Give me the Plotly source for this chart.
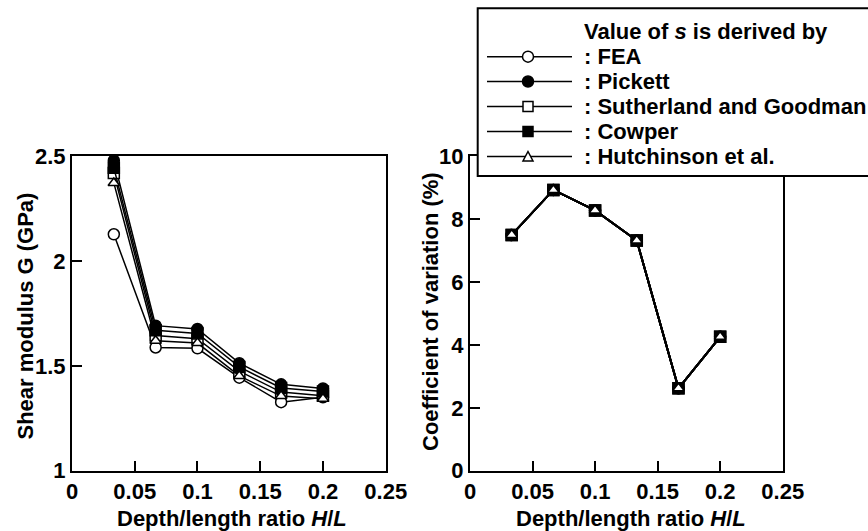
import plotly.graph_objects as go

# ---------------- data ----------------
hl_ratio = [1/30, 1/15, 0.1, 2/15, 1/6, 0.2]

series_names = ["FEA", "Pickett", "Sutherland and Goodman", "Cowper", "Hutchinson et al."]

g_fea = [2.128, 1.588, 1.584, 1.444, 1.327, 1.350]
g_pickett = [2.480, 1.692, 1.676, 1.513, 1.412, 1.392]
g_sutherland = [2.420, 1.645, 1.630, 1.475, 1.375, 1.358]
g_cowper = [2.445, 1.670, 1.655, 1.495, 1.395, 1.378]
g_hutchinson = [2.373, 1.620, 1.609, 1.452, 1.356, 1.343]

cv_values = [7.50, 8.93, 8.28, 7.32, 2.62, 4.26]

x_ticks = [0, 0.05, 0.1, 0.15, 0.2, 0.25]
x_tick_labels = ["0", "0.05", "0.1", "0.15", "0.2", "0.25"]
g_ticks = [1, 1.5, 2, 2.5]
g_tick_labels = ["1", "1.5", "2", "2.5"]
cv_ticks = [0, 2, 4, 6, 8, 10]
cv_tick_labels = ["0", "2", "4", "6", "8", "10"]

# ---------------- styles ----------------
marker_styles = [
    dict(symbol="circle", color="white", size=11),
    dict(symbol="circle", color="black", size=11),
    dict(symbol="square", color="white", size=11),
    dict(symbol="square", color="black", size=11),
    dict(symbol="triangle-up", color="white", size=10),
]
g_series = [g_fea, g_pickett, g_sutherland, g_cowper, g_hutchinson]

FONT = "Liberation Sans, Arial, Helvetica, sans-serif"
FS = 22
W, H = 868, 531

fig = go.Figure()

for name, vals, ms in zip(series_names, g_series, marker_styles):
    fig.add_trace(go.Scatter(
        x=hl_ratio, y=vals, mode="lines+markers", name=name,
        line=dict(color="black", width=1.5),
        marker=dict(symbol=ms["symbol"], color=ms["color"], size=ms["size"],
                    line=dict(color="black", width=1.5)),
        xaxis="x", yaxis="y", showlegend=False, cliponaxis=False,
    ))

for name, ms in zip(series_names, marker_styles):
    fig.add_trace(go.Scatter(
        x=hl_ratio, y=cv_values, mode="lines+markers", name=name,
        line=dict(color="black", width=2),
        marker=dict(symbol=ms["symbol"], color=ms["color"], size=ms["size"],
                    line=dict(color="black", width=1.5)),
        xaxis="x2", yaxis="y2", showlegend=False, cliponaxis=False,
    ))

def px_x(p):
    return p / W

def px_y(p):
    return 1 - p / H

ydom = [px_y(470.7), px_y(156.3)]

axis_common = dict(
    showline=True, linecolor="black", linewidth=2, mirror=True,
    ticks="inside", ticklen=10, tickwidth=1.5, tickcolor="black",
    showgrid=False, zeroline=False, automargin=False,
    tickfont=dict(family=FONT, size=FS, color="black", weight="bold"),
)

fig.update_layout(
    width=W, height=H,
    margin=dict(l=0, r=0, t=0, b=0, autoexpand=False),
    paper_bgcolor="white", plot_bgcolor="white",
    font=dict(family=FONT, size=FS, color="black", weight="bold"),
    showlegend=False,
    xaxis=dict(domain=[px_x(72), px_x(385.7)], range=[0, 0.25],
               tickvals=x_ticks, ticktext=x_tick_labels, anchor="y", **axis_common),
    yaxis=dict(domain=ydom, range=[1, 2.5],
               tickvals=g_ticks, ticktext=g_tick_labels, anchor="x", **axis_common),
    xaxis2=dict(domain=[px_x(470), px_x(782.7)], range=[0, 0.25],
                tickvals=x_ticks, ticktext=x_tick_labels, anchor="y2", **axis_common),
    yaxis2=dict(domain=ydom, range=[0, 10],
                tickvals=cv_ticks, ticktext=cv_tick_labels, anchor="x2", **axis_common),
)

annotations = []
title_font = dict(family=FONT, size=FS, color="black", weight="bold")
x_title = "Depth/length ratio <i>H</i>/<i>L</i>"
annotations.append(dict(text=x_title, x=px_x(231.5), y=px_y(518), xref="paper", yref="paper",
                        xanchor="center", yanchor="middle", showarrow=False, font=title_font))
annotations.append(dict(text=x_title, x=px_x(630.5), y=px_y(518), xref="paper", yref="paper",
                        xanchor="center", yanchor="middle", showarrow=False, font=title_font))
annotations.append(dict(text="Shear modulus G (GPa)", x=px_x(25), y=px_y(316.5), xref="paper", yref="paper",
                        xanchor="center", yanchor="middle", textangle=-90, showarrow=False, font=title_font))
annotations.append(dict(text="Coefficient of variation (%)", x=px_x(430), y=px_y(312), xref="paper", yref="paper",
                        xanchor="center", yanchor="middle", textangle=-90, showarrow=False, font=title_font))

# ---------------- legend box (drawn manually) ----------------
shapes = []
shapes.append(dict(type="rect", xref="paper", yref="paper",
                   x0=px_x(477.7), x1=px_x(880), y0=px_y(176), y1=px_y(8.3),
                   fillcolor="white", line=dict(color="black", width=2), layer="above"))

row_y = [56.7, 81.5, 106.5, 131.5, 156.5]
line_x0, line_x1, mark_x = 487, 572, 528
half = 5.5
annotations.append(dict(text="Value of <i>s</i> is derived by", x=px_x(582), y=px_y(31.5),
                        xref="paper", yref="paper", xanchor="left", yanchor="middle",
                        showarrow=False, font=title_font))
for name, ms, ry in zip(series_names, marker_styles, row_y):
    shapes.append(dict(type="line", xref="paper", yref="paper",
                       x0=px_x(line_x0), x1=px_x(line_x1), y0=px_y(ry), y1=px_y(ry),
                       line=dict(color="black", width=1.5), layer="above"))
    if ms["symbol"] == "circle":
        shapes.append(dict(type="circle", xref="paper", yref="paper",
                           x0=px_x(mark_x - half), x1=px_x(mark_x + half),
                           y0=px_y(ry + half), y1=px_y(ry - half),
                           fillcolor=ms["color"], line=dict(color="black", width=1.5), layer="above"))
    elif ms["symbol"] == "square":
        shapes.append(dict(type="rect", xref="paper", yref="paper",
                           x0=px_x(mark_x - 5), x1=px_x(mark_x + 5),
                           y0=px_y(ry + 5), y1=px_y(ry - 5),
                           fillcolor=ms["color"], line=dict(color="black", width=1.5), layer="above"))
    else:
        path = "M {:.5f} {:.5f} L {:.5f} {:.5f} L {:.5f} {:.5f} Z".format(
            px_x(mark_x - 5), px_y(ry + 4.5), px_x(mark_x + 5), px_y(ry + 4.5),
            px_x(mark_x), px_y(ry - 5))
        shapes.append(dict(type="path", xref="paper", yref="paper", path=path,
                           fillcolor="white", line=dict(color="black", width=1.5), layer="above"))
    annotations.append(dict(text=": " + name, x=px_x(582), y=px_y(ry),
                            xref="paper", yref="paper", xanchor="left", yanchor="middle",
                            showarrow=False, font=title_font))

fig.update_layout(shapes=shapes, annotations=annotations)

fig.write_html("out.html")
